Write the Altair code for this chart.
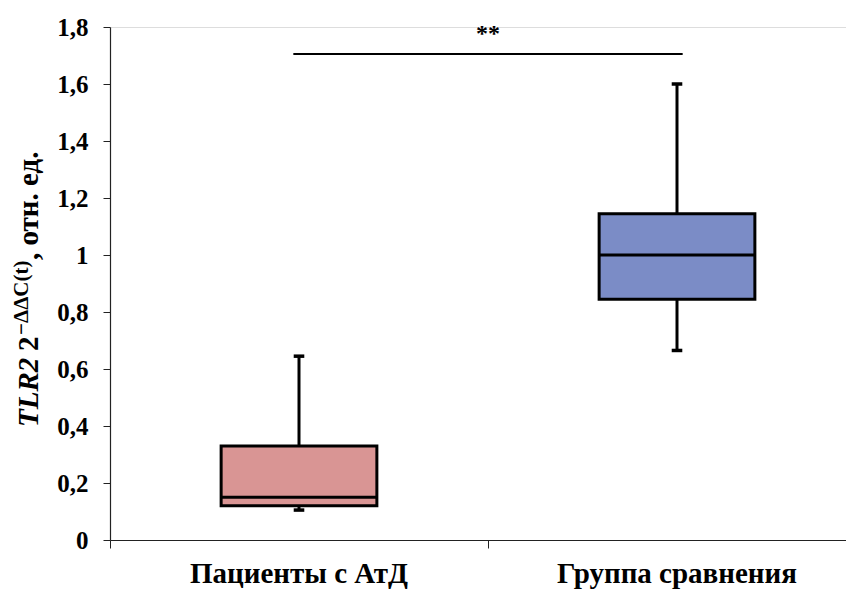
import altair as alt
import pandas as pd

# ---- data ----
groups = ["Пациенты с АтД", "Группа сравнения"]
positions = [0.5, 1.5]          # category centres on the x axis
whisker_low = [0.105, 0.665]
q1 = [0.12, 0.845]
median = [0.15, 1.0]
q3 = [0.33, 1.145]
whisker_high = [0.645, 1.60]
colors = ["#D99594", "#7B8CC6"]

y_ticks = [0, 0.2, 0.4, 0.6, 0.8, 1.0, 1.2, 1.4, 1.6, 1.8]
x_ticks = [0, 1]
bracket_from, bracket_to, bracket_y = 0.485, 1.515, 1.705
signif_text = "**"

BOX_HALF = 0.206
CAP_HALF = 0.014
W, H = 736, 513
FONT = "Liberation Serif, Times New Roman, serif"

box = pd.DataFrame({
    "group": groups, "pos": positions, "lo": whisker_low, "q1": q1,
    "med": median, "q3": q3, "hi": whisker_high, "color": colors,
})
box["x0"] = box["pos"] - BOX_HALF
box["x1"] = box["pos"] + BOX_HALF
box["c0"] = box["pos"] - CAP_HALF
box["c1"] = box["pos"] + CAP_HALF

xscale = alt.Scale(domain=[0, W / 378.0], nice=False, zero=False)
yscale = alt.Scale(domain=[0, 1.8], nice=False)

xaxis = alt.Axis(values=x_ticks, labels=False, title=None, grid=False,
                 tickSize=8, tickColor="#222", domainColor="#222", domainWidth=1.2)
yaxis = alt.Axis(values=y_ticks, title=None, grid=False, tickSize=7,
                 tickColor="#222", domainColor="#222", domainWidth=1.2,
                 labelFont=FONT, labelFontSize=25, labelFontWeight="bold",
                 labelColor="black", labelPadding=15,
                 labelExpr="replace(format(datum.value, '.1~f'), '.', ',')")

base = alt.Chart(box)

whisk_up = base.mark_rule(color="black", strokeWidth=3).encode(
    x=alt.X("pos:Q", scale=xscale, axis=xaxis),
    y=alt.Y("q3:Q", scale=yscale, axis=yaxis),
    y2="hi:Q",
)
whisk_dn = base.mark_rule(color="black", strokeWidth=3).encode(
    x=alt.X("pos:Q", scale=xscale), y=alt.Y("lo:Q", scale=yscale), y2="q1:Q")
cap_hi = base.mark_rule(color="black", strokeWidth=3.5).encode(
    x=alt.X("c0:Q", scale=xscale), x2="c1:Q", y=alt.Y("hi:Q", scale=yscale))
cap_lo = base.mark_rule(color="black", strokeWidth=3.5).encode(
    x=alt.X("c0:Q", scale=xscale), x2="c1:Q", y=alt.Y("lo:Q", scale=yscale))
boxes = base.mark_rect(stroke="black", strokeWidth=3).encode(
    x=alt.X("x0:Q", scale=xscale), x2="x1:Q",
    y=alt.Y("q1:Q", scale=yscale), y2="q3:Q",
    fill=alt.Fill("color:N", scale=None),
)
med = base.mark_rule(color="black", strokeWidth=3).encode(
    x=alt.X("x0:Q", scale=xscale), x2="x1:Q", y=alt.Y("med:Q", scale=yscale))

cat_labels = base.mark_text(font=FONT, fontSize=29, fontWeight="bold",
                            color="black", baseline="alphabetic").encode(
    x=alt.X("pos:Q", scale=xscale), y=alt.value(H + 43), text="group:N")

br = pd.DataFrame({"a": [bracket_from], "b": [bracket_to], "y": [bracket_y],
                   "m": [(bracket_from + bracket_to) / 2], "t": [signif_text]})
bracket = alt.Chart(br).mark_rule(color="black", strokeWidth=2).encode(
    x=alt.X("a:Q", scale=xscale), x2="b:Q", y=alt.Y("y:Q", scale=yscale))
stars = alt.Chart(br).mark_text(font=FONT, fontSize=24, fontWeight="bold",
                                color="black", baseline="bottom", dy=-8).encode(
    x=alt.X("m:Q", scale=xscale), y=alt.Y("y:Q", scale=yscale), text="t:N")

# ---- rotated y title built from pieces ----
title_parts = [
    ("TLR2", "italic", 29, -72, 400),
    ("2", "normal", 29, -72, 324),
    ("−ΔΔC(t)", "normal", 21, -82, 308),
    (", отн. ед.", "normal", 29, -72, 233),
]
title_layers = []
for txt, style, size, xx, yy in title_parts:
    title_layers.append(
        alt.Chart(pd.DataFrame({"t": [txt]})).mark_text(
            font=FONT, fontSize=size, fontWeight="bold", fontStyle=style,
            angle=270, align="left", baseline="alphabetic", color="black",
        ).encode(x=alt.value(xx), y=alt.value(yy), text="t:N")
    )

chart = alt.layer(
    whisk_up, whisk_dn, cap_hi, cap_lo, boxes, med, bracket, stars, cat_labels,
    *title_layers,
).properties(
    width=W, height=H,
    autosize=alt.AutoSizeParams(type="none"),
    padding={"left": 102, "top": 19, "right": 0, "bottom": 50},
).configure_view(stroke=None).configure(background="white")

chart.save("out.html", embed_options={"renderer": "svg", "actions": False})
